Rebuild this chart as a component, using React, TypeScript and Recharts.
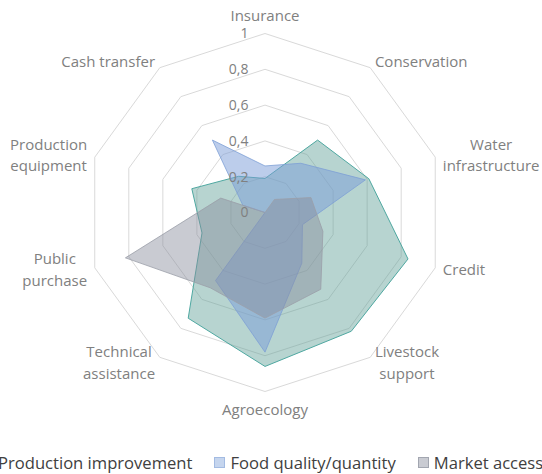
import React from 'react';
import { RadarChart, Radar, PolarGrid, PolarAngleAxis, PolarRadiusAxis, Legend } from 'recharts';

const categories = [
  'Insurance',
  'Conservation',
  'Water infrastructure',
  'Credit',
  'Livestock support',
  'Agroecology',
  'Technical assistance',
  'Public purchase',
  'Production equipment',
  'Cash transfer',
];

const labelLines = [
  ['Insurance'],
  ['Conservation'],
  ['Water', 'infrastructure'],
  ['Credit'],
  ['Livestock', 'support'],
  ['Agroecology'],
  ['Technical', 'assistance'],
  ['Public', 'purchase'],
  ['Production', 'equipment'],
  ['Cash transfer'],
];

const radiusTicks = [0, 0.2, 0.4, 0.6, 0.8, 1];

const productionImprovement = [0.19, 0.5, 0.61, 0.84, 0.82, 0.86, 0.73, 0.37, 0.43, 0.25];
const foodQuality = [0.26, 0.34, 0.59, 0.22, 0.35, 0.78, 0.47, 0, 0.13, 0.5];
const marketAccess = [0, 0.09, 0.27, 0.34, 0.53, 0.59, 0.52, 0.82, 0.26, 0];

const data = categories.map((name, i) => ({
  name,
  prod: productionImprovement[i],
  food: foodQuality[i],
  market: marketAccess[i],
}));

const CX = 265;
const CY = 212.5;
const R = 179;
const FONT = '"Open Sans", sans-serif';

let ctx: CanvasRenderingContext2D | null = null;
function measure(s: string) {
  if (!ctx) ctx = document.createElement('canvas').getContext('2d');
  if (!ctx) return s.length * 8;
  ctx.font = '15px "Open Sans"';
  return ctx.measureText(s).width;
}

// category labels sit just outside the outer ring, multi-line ones centred as a block
const AngleTick = (props: any) => {
  const i = categories.indexOf(props.payload.value);
  const a = ((90 - i * 36) * Math.PI) / 180;
  const cos = Math.cos(a);
  const sin = Math.sin(a);
  const vx = CX + R * cos;
  const vy = CY - R * sin;
  const lines = labelLines[i];
  const w = Math.max(...lines.map(measure));
  const lh = 21.5;
  let bx = vx;
  if (cos > 0.1) bx = vx + 8 * cos + w / 2;
  else if (cos < -0.1) bx = vx + 8 * cos - w / 2;
  const by = vy - sin * (Math.abs(sin) > 0.99 ? 18 : 7);
  const top = by - ((lines.length - 1) * lh) / 2;
  return (
    <text textAnchor="middle" fill="#808080" fontSize={15} fontFamily={FONT}>
      {lines.map((l, k) => (
        <tspan key={k} x={bx} y={top + k * lh} dy="0.35em">
          {l}
        </tspan>
      ))}
    </text>
  );
};

const RadiusTick = (props: any) => {
  const v = Math.round(props.payload.value * 10) / 10;
  return (
    <text x={props.x - 16.5} y={props.y} dy="0.35em" textAnchor="end" fill="#808080" fontSize={14} fontFamily={FONT}>
      {String(v).replace('.', ',')}
    </text>
  );
};

const legendItems = [
  { label: 'Production improvement', fill: '#b3d2ce', border: '#7fb8b2' },
  { label: 'Food quality/quantity', fill: '#c5d5ee', border: '#a3bbe2' },
  { label: 'Market access', fill: '#c9cbd2', border: '#a2a6b0' },
];

const renderLegend = () => (
  <div style={{ display: 'flex', alignItems: 'center', whiteSpace: 'nowrap', fontFamily: FONT, fontSize: 16.6, color: '#404040' }}>
    {legendItems.map((it) => (
      <div key={it.label} style={{ display: 'flex', alignItems: 'center', marginRight: 22 }}>
        <span style={{ width: 9, height: 9, background: it.fill, border: `1px solid ${it.border}`, marginRight: 5 }} />
        <span>{it.label}</span>
      </div>
    ))}
  </div>
);

export default function App() {
  return (
    <div style={{ position: 'absolute', left: 0, top: 0, width: 542, height: 474, background: '#fff', overflow: 'hidden' }}>
      <RadarChart width={542} height={474} data={data} cx={CX} cy={CY} outerRadius={R} margin={{ top: 0, right: 0, bottom: 0, left: 0 }}>
        <PolarGrid gridType="polygon" radialLines={false} stroke="#d9d9d9" />
        <PolarAngleAxis dataKey="name" axisLine={false} tickLine={false} tick={AngleTick} />
        <PolarRadiusAxis
          type="number"
          angle={90}
          domain={[0, 1]}
          ticks={radiusTicks as any}
          tickCount={6}
          allowDecimals
          axisLine={false}
          tick={RadiusTick}
        />
        <Radar name="Production improvement" dataKey="prod" stroke="#4fa8a1" strokeWidth={1} fill="#5f9f97" fillOpacity={0.45} isAnimationActive={false} />
        <Radar name="Food quality/quantity" dataKey="food" stroke="#7d9fd6" strokeWidth={0.8} fill="#799bd7" fillOpacity={0.5} isAnimationActive={false} />
        <Radar name="Market access" dataKey="market" stroke="#9a9ea8" strokeWidth={0.8} fill="#878b9b" fillOpacity={0.45} isAnimationActive={false} />
        <Legend content={renderLegend} wrapperStyle={{ position: 'absolute', left: -18, top: 451, width: 620 }} />
      </RadarChart>
    </div>
  );
}
